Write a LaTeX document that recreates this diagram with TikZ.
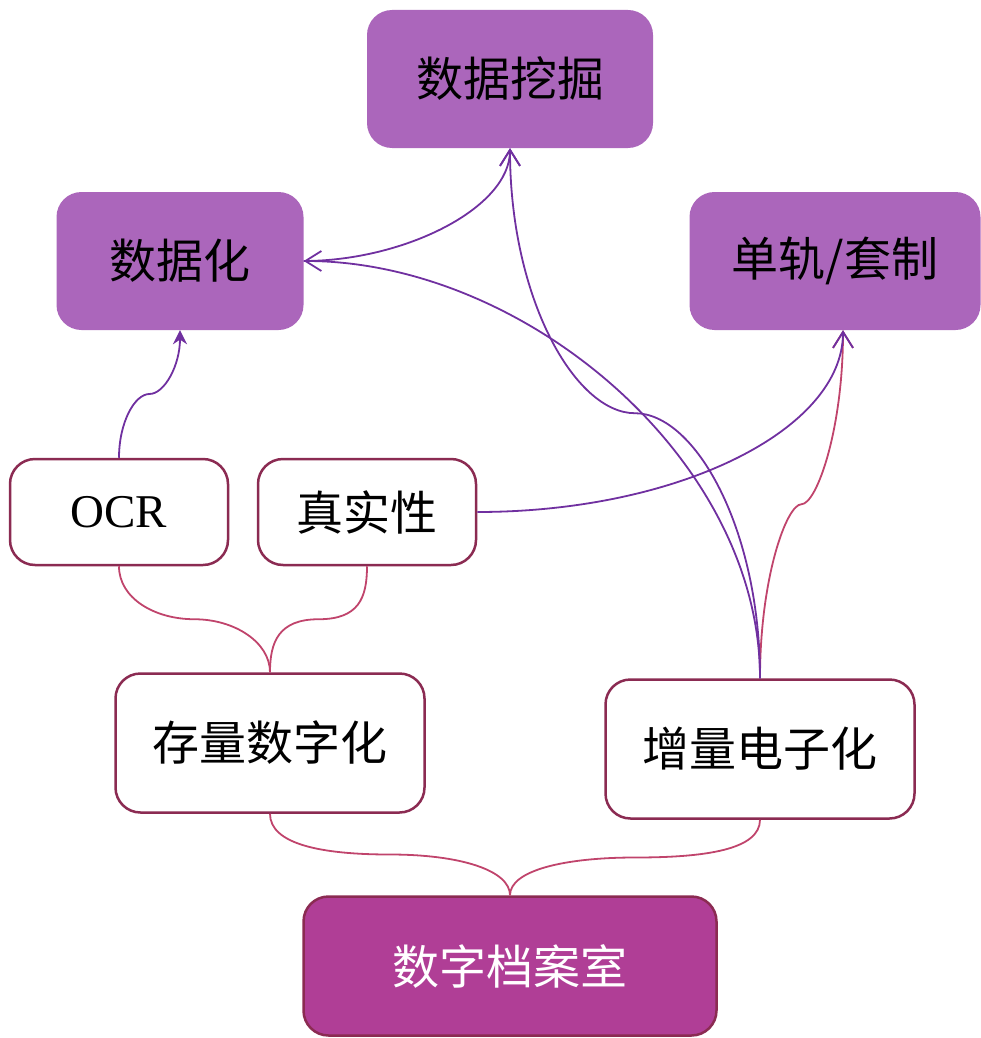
\documentclass[tikz,border=0pt]{standalone}
\usepackage{fontspec}
\setmainfont{Liberation Serif}
\newfontfamily\cjk{Noto Sans CJK SC}
\usetikzlibrary{arrows.meta,calc}
\definecolor{boxpurple}{HTML}{AB66BB}
\definecolor{rootfill}{HTML}{B03E96}
\definecolor{boxline}{HTML}{8B2B52}
\definecolor{pinkline}{HTML}{C0446C}
\definecolor{purpleline}{HTML}{7030A0}

\begin{document}
\begin{tikzpicture}[x=1pt, y=-1pt, >={Straight Barb[length=16pt,width=20pt]}]
	\tikzstyle{every node}=[inner sep=1pt, align=center, rounded corners=25pt, font=\cjk\fontsize{47}{52}\selectfont]
	\tikzstyle{topbox}=[fill=boxpurple, text=black, minimum height=138pt]
	\tikzstyle{midbox}=[draw=boxline, line width=2.5pt, fill=white, text=black, minimum width=218pt, minimum height=106pt]
	\tikzstyle{lowbox}=[draw=boxline, line width=2.5pt, fill=white, text=black, minimum width=309pt, minimum height=139pt]
	\tikzstyle{rootbox}=[draw=boxline, line width=2.5pt, fill=rootfill, text=white, minimum width=413pt, minimum height=139pt]
	\tikzstyle{pinklink}=[draw=pinkline, line width=1.8pt]
	\tikzstyle{purplelink}=[draw=purpleline, line width=1.8pt]
	\useasboundingbox (0,0) rectangle (981,1038);

	\node[topbox, minimum width=286pt] (mining) at (510,79) {数据挖掘};
	\node[topbox, minimum width=247pt] (dataify) at (180,261) {数据化};
	\node[topbox, minimum width=291pt] (track) at (835,261) {单轨/套制};
	\node[midbox, font=\fontsize{47}{52}\selectfont] (ocr) at (119,512) {OCR};
	\node[midbox] (truth) at (367,512) {真实性};
	\node[lowbox] (stock) at (270,743) {存量数字化};
	\node[lowbox] (incr) at (760,749) {增量电子化};
	\node[rootbox] (root) at (510,966) {数字档案室};
	\coordinate (trackin) at ([xshift=8pt]track.south);

	% children of the two lower boxes
	\draw [pinklink] (ocr.south) .. controls +(0,32) and +(-40,0) .. ($(ocr.south)!0.5!(stock.north)$) .. controls +(40,0) and +(0,-30) .. (stock.north);
	\draw [pinklink] (truth.south) .. controls +(0,32) and +(40,0) .. ($(truth.south)!0.5!(stock.north)$) .. controls +(-40,0) and +(0,-30) .. (stock.north);
	\draw [pinklink] (stock.south) .. controls +(0,30) and +(-70,0) .. ($(stock.south)!0.5!(root.north)$) .. controls +(70,0) and +(0,-25) .. (root.north);
	\draw [pinklink] (incr.south) .. controls +(0,30) and +(70,0) .. ($(incr.south)!0.5!(root.north)$) .. controls +(-70,0) and +(0,-25) .. (root.north);

	% arrows up
	\draw [purplelink, -{Stealth[length=14pt,width=14pt]}] (ocr.north) .. controls +(0,-35) and +(-15,0) .. ($(ocr.north)!0.5!(dataify.south)$) .. controls +(15,0) and +(0,35) .. (dataify.south);
	\draw [pinklink, ->] (incr.north) .. controls +(0,-100) and +(-15,0) .. ($(incr.north)!0.5!(trackin)$) .. controls +(15,0) and +(0,100) .. (trackin);
	\draw [purplelink, ->] (incr.north) .. controls +(0,-150) and +(60,0) .. ($(incr.north)!0.5!(mining.south)$) .. controls +(-60,0) and +(0,150) .. (mining.south);
	\draw [purplelink, ->] (incr.north) .. controls +(0,-220) and +(220,0) .. (dataify.east);
	\draw [purplelink, ->] (dataify.east) .. controls +(100,0) and +(0,60) .. (mining.south);
	\draw [purplelink, ->] (truth.east) .. controls +(200,0) and +(0,100) .. (trackin);
\end{tikzpicture}
\end{document}
